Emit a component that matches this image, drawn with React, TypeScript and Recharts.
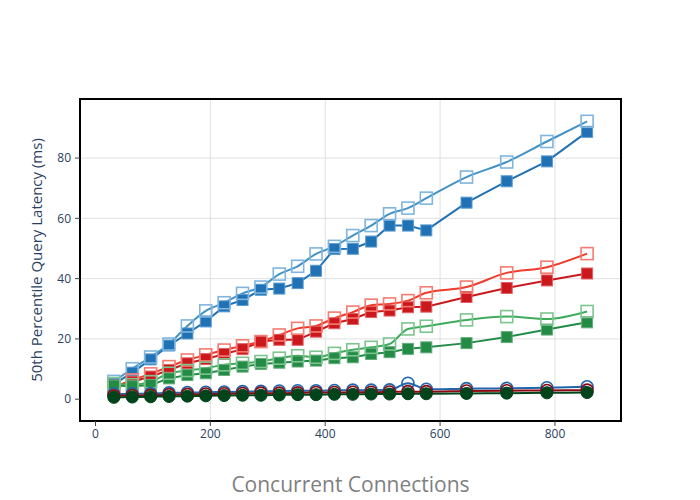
import React from 'react';
import { LineChart, Line, XAxis, YAxis, CartesianGrid, ReferenceArea } from 'recharts';

const connections = [32, 64, 96, 128, 160, 192, 224, 256, 288, 320, 352, 384, 416, 448, 480, 512, 544, 576, 646, 716, 786, 856];

const blueFilled = [5.0, 8.8, 13.2, 17.8, 21.8, 25.8, 30.8, 32.9, 36.3, 36.7, 38.5, 42.6, 49.8, 49.9, 52.3, 57.6, 57.6, 56.0, 65.2, 72.3, 78.9, 88.7];
const blueOpen = [5.9, 10.1, 14.0, 18.3, 24.3, 29.3, 32.0, 35.1, 37.2, 41.5, 44.1, 48.2, 50.7, 54.3, 57.6, 61.5, 63.4, 66.7, 73.7, 78.7, 85.5, 92.2];
const redFilled = [4.5, 5.8, 7.5, 9.7, 11.9, 13.3, 15.0, 16.6, 19.1, 19.7, 19.7, 22.4, 25.2, 26.6, 28.9, 29.4, 30.5, 30.7, 33.9, 36.9, 39.4, 41.7];
const redOpen = [4.0, 6.4, 8.4, 10.8, 13.0, 14.7, 16.3, 17.7, 19.1, 21.3, 23.5, 24.3, 26.9, 28.9, 31.2, 31.6, 32.7, 35.3, 37.2, 41.9, 43.8, 48.3];
const greenFilled = [4.5, 4.3, 4.7, 6.9, 8.0, 8.6, 9.7, 10.8, 11.7, 12.1, 12.5, 12.8, 13.6, 13.9, 15.0, 15.6, 16.7, 17.2, 18.6, 20.6, 23.1, 25.5];
const greenOpen = [5.2, 4.8, 5.8, 8.6, 9.5, 10.3, 11.4, 11.9, 12.5, 13.6, 14.4, 13.9, 15.2, 16.4, 17.2, 18.3, 23.3, 24.2, 26.3, 27.4, 26.6, 29.1];
const blueCircle = [1.7, 1.8, 1.9, 2.1, 2.2, 2.3, 2.4, 2.5, 2.6, 2.7, 2.8, 2.8, 2.9, 3.0, 3.0, 3.1, 5.3, 3.3, 3.5, 3.6, 3.8, 4.1];
const redCircle = [1.1, 1.2, 1.3, 1.5, 1.6, 1.7, 1.8, 1.9, 2.0, 2.0, 2.1, 2.2, 2.2, 2.3, 2.3, 2.4, 2.5, 2.5, 2.7, 2.8, 2.9, 3.0];
const greenCircle = [0.6, 0.7, 0.8, 0.9, 1.0, 1.1, 1.2, 1.3, 1.3, 1.4, 1.5, 1.5, 1.6, 1.6, 1.7, 1.7, 1.8, 1.8, 1.9, 2.0, 2.1, 2.2];

const xTicks = [0, 200, 400, 600, 800];
const yTicks = [0, 20, 40, 60, 80];
const xDomain = [-27, 915];
const yDomain = [-7.24, 99.6];

const data = connections.map((x, i) => ({
  x,
  blueFilled: blueFilled[i],
  blueOpen: blueOpen[i],
  redFilled: redFilled[i],
  redOpen: redOpen[i],
  greenFilled: greenFilled[i],
  greenOpen: greenOpen[i],
  blueCircle: blueCircle[i],
  redCircle: redCircle[i],
  greenCircle: greenCircle[i],
}));

const font = '"Open Sans", sans-serif';

const squareDot = (fill: string, stroke: string, open: boolean) => (props: any) => {
  const { cx, cy, index } = props;
  if (cx == null || cy == null) return <g key={index} />;
  const s = open ? 6 : 5.5;
  return (
    <rect
      key={index}
      x={cx - s}
      y={cy - s}
      width={s * 2}
      height={s * 2}
      fill={open ? 'none' : fill}
      stroke={stroke}
      strokeWidth={open ? 1.6 : 1}
    />
  );
};

const circleDot = (fill: string, stroke: string, open: boolean) => (props: any) => {
  const { cx, cy, index } = props;
  if (cx == null || cy == null) return <g key={index} />;
  return (
    <circle key={index} cx={cx} cy={cy} r={6} fill={open ? 'none' : fill} stroke={stroke} strokeWidth={open ? 1.6 : 1} />
  );
};

const XTitle = (props: any) => {
  const { viewBox } = props;
  return (
    <text x={viewBox.x + viewBox.width / 2} y={484} textAnchor="middle" dominantBaseline="central"
      fill="#7f7f7f" fontSize={21} fontFamily={font}>
      Concurrent Connections
    </text>
  );
};

const YTitle = (props: any) => {
  const { viewBox } = props;
  const cy = viewBox.y + viewBox.height / 2;
  return (
    <text x={36} y={cy} transform={`rotate(-90, 36, ${cy})`} textAnchor="middle" dominantBaseline="central"
      fill="#2a3f5f" fontSize={15} fontFamily={font}>
      50th Percentile Query Latency (ms)
    </text>
  );
};

export default function App() {
  return (
    <div style={{ position: 'absolute', left: 0, top: 0, width: 700, height: 500, background: '#fff' }}>
      <LineChart width={700} height={500} data={data} margin={{ top: 99, right: 79, bottom: 0, left: 0 }}>
        <CartesianGrid stroke="#e0e0e0" strokeWidth={1} horizontalValues={[20, 40, 60, 80]} verticalValues={[200, 400, 600, 800]} />
        <XAxis
          dataKey="x"
          type="number"
          domain={xDomain}
          ticks={xTicks}
          allowDataOverflow
          height={79}
          axisLine={false}
          tickSize={5}
          tickMargin={3}
          tickLine={{ stroke: '#444', strokeWidth: 1 }}
          tick={{ fill: '#2a3f5f', fontSize: 12, fontFamily: font }}
          label={<XTitle />}
        />
        <YAxis
          type="number"
          domain={yDomain}
          ticks={yTicks}
          allowDataOverflow
          width={80}
          axisLine={false}
          tickSize={5}
          tickMargin={4}
          tickLine={{ stroke: '#444', strokeWidth: 1 }}
          tick={{ fill: '#2a3f5f', fontSize: 12, fontFamily: font }}
          label={<YTitle />}
        />
        <Line dataKey="blueFilled" type="linear" stroke="#2171b5" strokeWidth={2}
          dot={squareDot('#2171b5', '#5a9bd0', false)} isAnimationActive={false} />
        <Line dataKey="blueOpen" type="monotone" stroke="#4292c6" strokeWidth={2}
          dot={squareDot('none', '#7fb5de', true)} isAnimationActive={false} />
        <Line dataKey="redFilled" type="linear" stroke="#cb181d" strokeWidth={2}
          dot={squareDot('#cb181d', '#e06265', false)} isAnimationActive={false} />
        <Line dataKey="redOpen" type="monotone" stroke="#ef3b2c" strokeWidth={2}
          dot={squareDot('none', '#f47c71', true)} isAnimationActive={false} />
        <Line dataKey="greenFilled" type="linear" stroke="#238b45" strokeWidth={2}
          dot={squareDot('#238b45', '#62ad7a', false)} isAnimationActive={false} />
        <Line dataKey="greenOpen" type="monotone" stroke="#41ab5d" strokeWidth={2}
          dot={squareDot('none', '#7dc58f', true)} isAnimationActive={false} />
        <Line dataKey="blueCircle" type="monotone" stroke="#2166ac" strokeWidth={2}
          dot={circleDot('none', '#2166ac', true)} isAnimationActive={false} />
        <Line dataKey="redCircle" type="monotone" stroke="#8b0a12" strokeWidth={2}
          dot={circleDot('none', '#8b0a12', true)} isAnimationActive={false} />
        <Line dataKey="greenCircle" type="monotone" stroke="#00441b" strokeWidth={2}
          dot={circleDot('#00441b', '#00441b', false)} isAnimationActive={false} />
        <ReferenceArea x1={xDomain[0]} x2={xDomain[1]} y1={yDomain[0]} y2={yDomain[1]}
          fill="none" fillOpacity={0} stroke="#000" strokeWidth={2} />
      </LineChart>
    </div>
  );
}
